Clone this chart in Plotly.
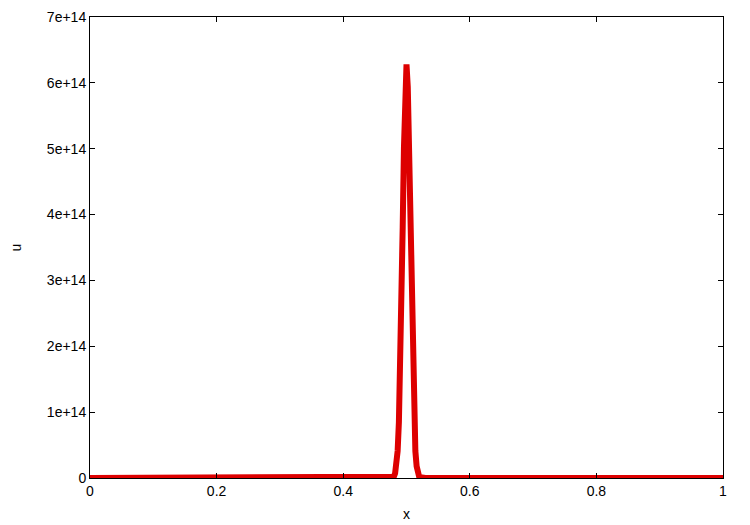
import plotly.graph_objects as go

# profile of u(x), spike centred on x = 0.5
x_vals = [0.0, 0.45, 0.47, 0.475, 0.478, 0.48, 0.482, 0.484, 0.486, 0.488, 0.49,
          0.492, 0.494, 0.496, 0.498, 0.5, 0.502, 0.504, 0.506, 0.508, 0.51,
          0.512, 0.514, 0.516, 0.518, 0.52, 0.522, 0.525, 0.53, 0.55, 1.0]
u_vals = [0.0, 0.0, 0.0, 0.002e14, 0.01e14, 0.02e14, 0.07e14, 0.18e14, 0.41e14, 0.85e14, 1.57e14,
          2.58e14, 3.81e14, 5.03e14, 5.94e14, 6.28e14, 5.94e14, 5.03e14, 3.81e14, 2.58e14, 1.57e14,
          0.85e14, 0.41e14, 0.18e14, 0.07e14, 0.02e14, 0.01e14, 0.002e14, 0.0, 0.0, 0.0]

x_ticks = [0, 0.2, 0.4, 0.6, 0.8, 1]
x_labels = ["0", "0.2", "0.4", "0.6", "0.8", "1"]
y_ticks = [0, 1e14, 2e14, 3e14, 4e14, 5e14, 6e14, 7e14]
y_labels = ["0", "1e+14", "2e+14", "3e+14", "4e+14", "5e+14", "6e+14", "7e+14"]

fig = go.Figure()
fig.add_trace(go.Scatter(x=x_vals, y=u_vals, mode="lines", cliponaxis=False,
                         line=dict(color="#dd0000", width=6), showlegend=False))

axis_common = dict(showgrid=False, zeroline=False, showline=True, linecolor="black",
                   linewidth=1, mirror="allticks", ticks="inside", ticklen=5,
                   tickcolor="black", tickfont=dict(size=14, color="black"),
                   automargin=False)

fig.update_xaxes(range=[0, 1], tickvals=x_ticks, ticktext=x_labels,
                 title=dict(text="x", standoff=11, font=dict(size=14)), **axis_common)
fig.update_yaxes(range=[0, 7e14], tickvals=y_ticks, ticktext=y_labels,
                 title=dict(text="u", standoff=33, font=dict(size=14)), **axis_common)

fig.update_layout(width=750, height=525, plot_bgcolor="white", paper_bgcolor="white",
                  font=dict(family="Liberation Sans, Arial, sans-serif", color="black"),
                  margin=dict(l=82, r=35, t=9, b=55))
fig.write_html("out.html")
